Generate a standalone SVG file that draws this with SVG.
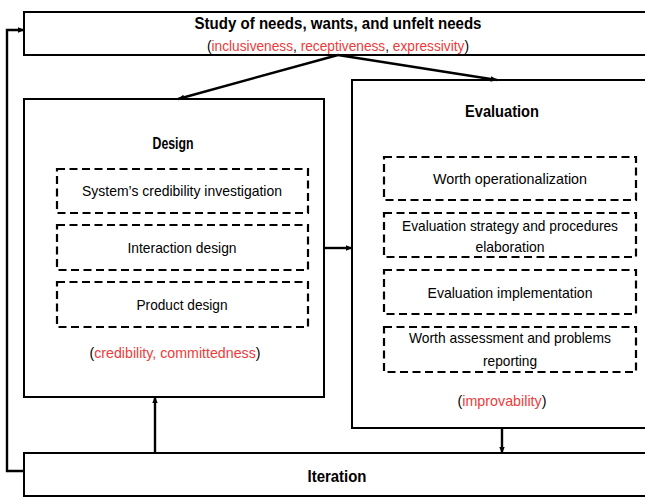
<svg xmlns="http://www.w3.org/2000/svg" width="645" height="497" viewBox="0 0 645 497">
<style>
.box{fill:#fff;stroke:#000;stroke-width:2}
.dash{fill:none;stroke:#000;stroke-width:2.2;stroke-dasharray:8 4.5}
.con{fill:none;stroke:#000;stroke-width:2.4}
text{font-family:"Liberation Sans",Arial,sans-serif;font-size:14.5px;fill:#000;text-anchor:middle}
.t{font-weight:bold;font-size:16.5px}
.r{fill:#ee3b3b}
</style>
<defs>
<marker id="ah" markerUnits="userSpaceOnUse" markerWidth="7" markerHeight="7" viewBox="0 0 10 10" refX="9" refY="5" orient="auto">
<path d="M0,1 L10,5 L0,9 Z" fill="#000"/>
</marker>
</defs>
<rect width="645" height="497" fill="#fff"/>
<g id="study">
<rect class="box" x="24" y="12" width="630" height="43"/>
<text class="t" x="338" y="29" textLength="287" lengthAdjust="spacingAndGlyphs">Study of needs, wants, and unfelt needs</text>
<text x="338" y="51" textLength="262" lengthAdjust="spacingAndGlyphs">(<tspan class="r">inclusiveness</tspan>, <tspan class="r">receptiveness</tspan>,  <tspan class="r">expressivity</tspan>)</text>
</g>
<g id="design">
<rect class="box" x="24" y="99" width="300" height="298"/>
<text class="t" x="173" y="149" textLength="41" lengthAdjust="spacingAndGlyphs">Design</text>
<rect class="dash" x="57" y="169" width="251" height="44"/>
<text x="182" y="196" textLength="200" lengthAdjust="spacingAndGlyphs">System’s credibility investigation</text>
<rect class="dash" x="57" y="225" width="251" height="45"/>
<text x="182" y="253" textLength="109" lengthAdjust="spacingAndGlyphs">Interaction design</text>
<rect class="dash" x="57" y="282" width="251" height="45"/>
<text x="182" y="310" textLength="91" lengthAdjust="spacingAndGlyphs">Product design</text>
<text x="175" y="358" textLength="171" lengthAdjust="spacingAndGlyphs">(<tspan class="r">credibility, committedness</tspan>)</text>
</g>
<g id="evaluation">
<rect class="box" x="352" y="80" width="300" height="348"/>
<text class="t" x="502" y="117" textLength="74" lengthAdjust="spacingAndGlyphs">Evaluation</text>
<rect class="dash" x="384" y="157" width="252" height="43"/>
<text x="510" y="184" textLength="154" lengthAdjust="spacingAndGlyphs">Worth operationalization</text>
<rect class="dash" x="384" y="213" width="252" height="44"/>
<text x="510" y="231" textLength="216" lengthAdjust="spacingAndGlyphs">Evaluation strategy and procedures</text>
<text x="510" y="252" textLength="69" lengthAdjust="spacingAndGlyphs">elaboration</text>
<rect class="dash" x="384" y="270" width="252" height="44"/>
<text x="510" y="298" textLength="165" lengthAdjust="spacingAndGlyphs">Evaluation implementation</text>
<rect class="dash" x="384" y="327" width="252" height="45"/>
<text x="510" y="343" textLength="202" lengthAdjust="spacingAndGlyphs">Worth assessment  and problems</text>
<text x="510" y="366" textLength="54" lengthAdjust="spacingAndGlyphs">reporting</text>
<text x="502" y="406" textLength="89" lengthAdjust="spacingAndGlyphs">(<tspan class="r">improvability</tspan>)</text>
</g>
<g id="iteration">
<rect class="box" x="24" y="453" width="630" height="43"/>
<text class="t" x="337" y="482" textLength="59" lengthAdjust="spacingAndGlyphs">Iteration</text>
</g>
<g id="connectors">
<line class="con" x1="338" y1="55" x2="178" y2="99" marker-end="url(#ah)"/>
<line class="con" x1="338" y1="55" x2="497" y2="80" marker-end="url(#ah)"/>
<line class="con" x1="324" y1="248" x2="352" y2="248" marker-end="url(#ah)"/>
<line class="con" x1="155" y1="453" x2="155" y2="397" marker-end="url(#ah)"/>
<line class="con" x1="502" y1="428" x2="502" y2="453" marker-end="url(#ah)"/>
<polyline class="con" points="24,471 7,471 7,30 24,30" marker-end="url(#ah)"/>
</g>
</svg>
